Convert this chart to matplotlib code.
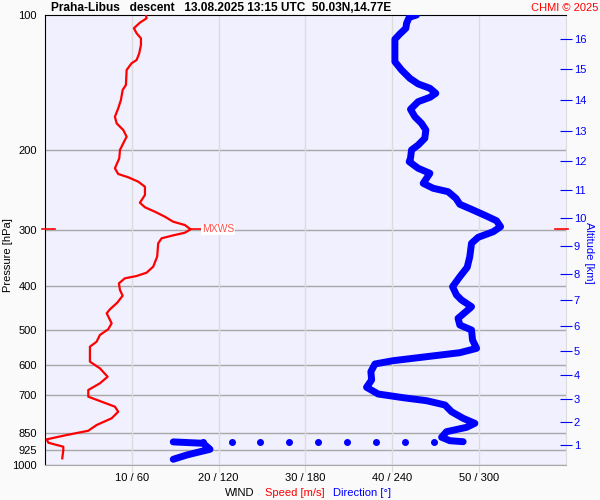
import matplotlib
matplotlib.use("Agg")
import matplotlib.pyplot as plt
import numpy as np

plt.rcParams['font.family'] = ['Liberation Sans', 'DejaVu Sans']

# wind speed profile (pressure hPa, speed m/s)
speed_p = [100.0, 101.7, 104.0, 107.0, 109.8, 112.7, 116.6, 121.7, 125.9, 128.0, 132.5, 143.0,
           146.8, 154.5, 161.2, 168.3, 174.1, 180.1, 186.4, 192.8, 199.5, 208.2, 219.1, 225.6,
           229.4, 234.6, 240.8, 251.2, 261.3, 267.5, 273.6, 280.7, 288.0, 292.9, 299.4, 304.7,
           308.8, 313.5, 321.6, 344.4, 362.5, 373.8, 380.2, 384.7, 394.7, 408.4, 420.5, 435.8,
           450.8, 460.1, 484.2, 499.3, 514.1, 532.1, 545.9, 569.6, 589.4, 609.8, 636.6, 658.4,
           681.3, 705.0, 723.3, 742.0, 761.4, 787.5, 815.0, 839.2, 857.8, 876.9, 892.2, 910.7,
           926.3, 966.3]
speed_v = [11.63, 11.71, 10.94, 10.25, 10.56, 11.06, 11.06, 10.86, 10.56, 9.98, 9.41, 9.33,
           8.95, 8.75, 8.44, 8.06, 8.26, 9.02, 9.41, 9.02, 8.64, 8.56, 8.06, 8.44,
           9.59, 10.75, 11.52, 11.52, 10.94, 11.52, 12.67, 13.82, 14.78, 16.12, 16.78, 16.12,
           14.78, 13.44, 13.05, 12.93, 12.47, 11.71, 10.56, 9.21, 8.52, 8.64, 8.95, 8.33,
           7.49, 7.11, 7.68, 7.29, 6.33, 5.95, 5.18, 5.18, 5.18, 6.33, 7.22, 6.33,
           4.99, 4.99, 6.53, 8.06, 8.44, 7.68, 5.95, 4.99, 2.50, 0.20, 0.38, 2.11,
           2.11, 1.99]

# wind direction profile (pressure hPa, direction deg)
dir_p = [100.0, 101.2, 104.3, 107.0, 110.2, 113.2, 119.6, 127.0, 132.5, 138.3, 142.3, 145.5,
         149.3, 152.4, 155.8, 162.0, 168.3, 174.1, 180.1, 187.9, 194.5, 199.5, 208.2, 211.8,
         219.1, 224.8, 236.6, 242.7, 247.0, 255.5, 263.4, 271.3, 279.8, 286.6, 295.4, 303.1,
         311.9, 321.6, 344.4, 363.7, 381.6, 401.6, 419.0, 429.9, 444.9, 448.6, 472.1, 488.6,
         501.2, 527.6, 550.5, 562.9, 574.5, 586.4, 596.4, 620.3, 647.2, 671.9, 695.4, 708.6,
         719.6, 735.6, 761.4, 787.5, 807.9, 824.6, 843.3, 867.8, 883.1, 887.6]
dir_d = [257.0, 251.9, 250.1, 249.6, 245.4, 242.0, 242.0, 242.0, 246.6, 252.4, 258.1, 266.2,
         270.3, 266.2, 258.1, 252.8, 255.8, 260.4, 263.4, 262.7, 258.1, 253.5, 252.8, 251.9,
         258.1, 266.2, 261.6, 268.5, 278.8, 284.2, 286.9, 296.1, 305.4, 312.3, 315.1, 310.0,
         299.6, 295.0, 293.8, 292.0, 286.9, 281.9, 284.6, 288.1, 295.0, 293.8, 285.7, 286.9,
         295.0, 295.7, 298.5, 286.9, 263.9, 240.8, 228.2, 225.4, 225.9, 222.4, 230.4, 247.7,
         263.9, 276.6, 281.2, 289.2, 297.3, 291.6, 277.7, 274.3, 280.0, 289.2]
dir_low_p = [888.5, 894.9, 922.9, 934.3, 950.3, 971.2]
dir_low_d = [88.7, 109.4, 114.1, 107.2, 98.0, 88.7]
gap_p = 888.0
gap_d = [109, 129, 149, 169, 189, 209, 229, 249, 269]

mxws_p = 299.4
p_levels = [100, 200, 300, 400, 500, 600, 700, 850, 925, 1000]
alt_km = list(range(1, 17))
alt_p = [902.6, 802, 713, 631, 558, 491, 430, 376, 326, 282, 245, 211, 181, 154.5, 132, 113]
x_ticks = [10, 20, 30, 40, 50]
x_labels = ['10 / 60', '20 / 120', '30 / 180', '40 / 240', '50 / 300']

fig = plt.figure(figsize=(6, 5), dpi=100, facecolor='#fafafa')
ax = fig.add_axes([0.075, 0.07, 0.8675, 0.90])
ax.set_facecolor('#f0f0ff')
ax.set_yscale('log')
ax.set_ylim(1000, 100)
ax.set_xlim(0, 60)

for p in p_levels[1:]:
    ax.axhline(p, color='#a8a8a8', lw=1, zorder=1)
for x in x_ticks:
    ax.axvline(x, color='#dcdcdc', lw=1, zorder=1)

ax.plot(speed_v, speed_p, color='red', lw=1.6, zorder=3)
ax.plot(np.array(dir_d) / 6, dir_p, color='blue', lw=5, solid_capstyle='round',
        solid_joinstyle='round', zorder=3)
ax.plot(np.array(dir_low_d) / 6, dir_low_p, color='blue', lw=5, solid_capstyle='round',
        solid_joinstyle='round', zorder=3)
ax.plot(np.array(gap_d) / 6, [gap_p] * len(gap_d), 'o', color='blue', ms=4, zorder=3)

# max wind marks
ax.plot([-0.3, 1.2], [mxws_p, mxws_p], color='red', lw=1.2, clip_on=False, zorder=4)
ax.plot([58.8, 60.3], [mxws_p, mxws_p], color='red', lw=1.2, clip_on=False, zorder=4)
ax.plot([16.8, 18.0], [mxws_p, mxws_p], color='red', lw=1.2, zorder=4)
ax.text(18.1, mxws_p, 'MXWS', color='#ff5050', fontsize=7.5, va='center', ha='left',
        bbox=dict(facecolor='white', edgecolor='none', pad=0.5), zorder=5)

ax.set_yticks(p_levels)
ax.set_yticklabels([str(p) for p in p_levels])
ax.yaxis.set_minor_locator(matplotlib.ticker.NullLocator())
ax.tick_params(axis='y', length=0, labelsize=8, pad=6)
ax.set_xticks(x_ticks)
ax.set_xticklabels(x_labels)
ax.tick_params(axis='x', length=5, color='#dcdcdc', labelsize=8, pad=1)

ax.spines['top'].set_color('black')
ax.spines['left'].set_color('black')
ax.spines['bottom'].set_color('#a8a8a8')
ax.spines['right'].set_color('#dcdcdc')

ax2 = ax.twinx()
ax2.set_yscale('log')
ax2.set_ylim(1000, 100)
ax2.set_yticks(alt_p)
ax2.set_yticklabels([str(a) for a in alt_km])
ax2.yaxis.set_minor_locator(matplotlib.ticker.NullLocator())
ax2.tick_params(axis='y', direction='inout', length=8, color='blue', labelcolor='blue',
                labelsize=8, pad=2)
for s in ax2.spines.values():
    s.set_visible(False)

fig.text(0.014, 0.49, 'Pressure [hPa]', fontsize=8, rotation=90, va='center', ha='center')
fig.text(0.982, 0.495, 'Altitude [km]', color='blue', fontsize=8, rotation=270,
         va='center', ha='center')

fig.text(0.085, 0.984, 'Praha-Libus   descent   13.08.2025 13:15 UTC  50.03N,14.77E',
         fontsize=8.6, fontweight='bold', va='center', ha='left')
fig.text(0.997, 0.984, 'CHMI \u00a9 2025', color='red', fontsize=8, va='center', ha='right')

fig.text(0.375, 0.015, 'WIND', fontsize=8, va='center', ha='left')
fig.text(0.442, 0.015, 'Speed [m/s]', color='red', fontsize=8, va='center', ha='left')
fig.text(0.555, 0.015, 'Direction [\u00b0]', color='blue', fontsize=8, va='center', ha='left')

fig.savefig('out.png', dpi=100, facecolor=fig.get_facecolor())
